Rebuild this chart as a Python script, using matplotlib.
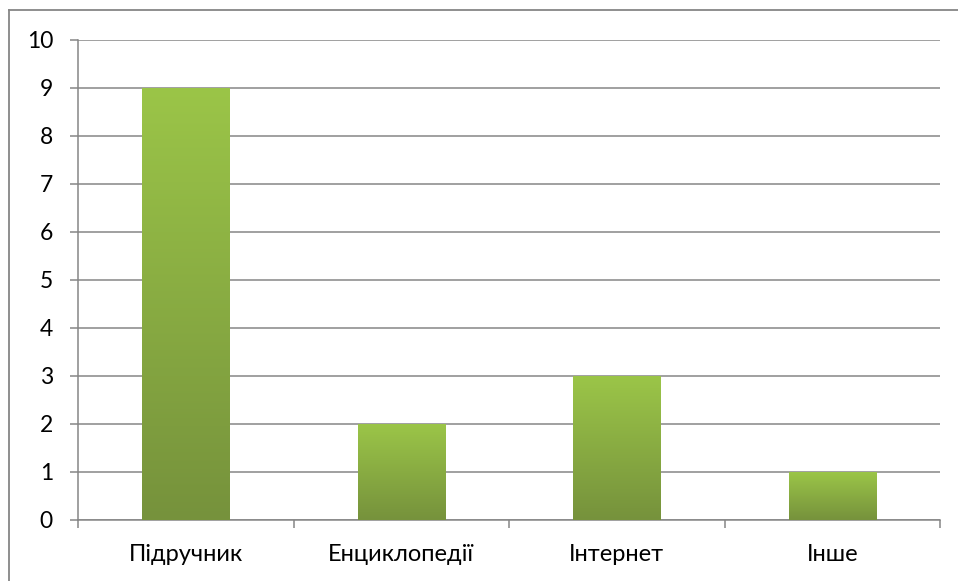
import matplotlib

matplotlib.use("Agg")
import matplotlib.pyplot as plt
import numpy as np
from matplotlib.colors import LinearSegmentedColormap
from matplotlib.lines import Line2D

categories = ["Підручник", "Енциклопедії", "Інтернет", "Інше"]
values = [9, 2, 3, 1]
y_ticks = [0, 1, 2, 3, 4, 5, 6, 7, 8, 9, 10]

grid_color = "#868686"
green_cmap = LinearSegmentedColormap.from_list("bar_green", ["#76923C", "#9BC548"])

plt.rcParams["font.family"] = ["Lato", "DejaVu Sans"]

W, H = 958, 581
fig = plt.figure(figsize=(W / 100, H / 100), dpi=100)
ax = fig.add_axes([78 / W, (H - 520) / H, (940 - 78) / W, (520 - 40) / H])

x = np.arange(len(categories))
bars = ax.bar(x, values, width=0.405, color="none", zorder=3)

# vertical gradient fill for each bar
grad = np.linspace(0, 1, 256).reshape(-1, 1)
for bar in bars:
    x0, w, h = bar.get_x(), bar.get_width(), bar.get_height()
    img = ax.imshow(grad, cmap=green_cmap, origin="lower", aspect="auto",
                    extent=[x0, x0 + w, 0, h], zorder=3)
    img.set_clip_path(bar)

ax.set_xlim(-0.5, len(categories) - 0.5)
ax.set_ylim(0, 10)
ax.set_yticks(y_ticks)
ax.yaxis.grid(True, color=grid_color, linewidth=1.1, zorder=1)
ax.set_axisbelow(True)

ax.set_xticks(x)
ax.set_xticklabels(categories, fontsize=17)
ax.set_xticks(np.arange(-0.5, len(categories)), minor=True)
ax.tick_params(axis="x", which="major", length=0, pad=17)
ax.tick_params(axis="x", which="minor", length=6, width=1.1, color=grid_color)
ax.tick_params(axis="y", length=6, width=1.1, color=grid_color, labelsize=16.5, pad=12)

for side in ["top", "right"]:
    ax.spines[side].set_visible(False)
for side in ["left", "bottom"]:
    ax.spines[side].set_color(grid_color)
    ax.spines[side].set_linewidth(1.1)

# outer chart frame (top and left edges visible in the crop)
fig.add_artist(Line2D([9 / W, 1.0], [(H - 10) / H] * 2, color=grid_color, linewidth=1.3))
fig.add_artist(Line2D([9 / W] * 2, [0.0, (H - 10) / H], color=grid_color, linewidth=1.3))

fig.savefig("out.png", dpi=100)
